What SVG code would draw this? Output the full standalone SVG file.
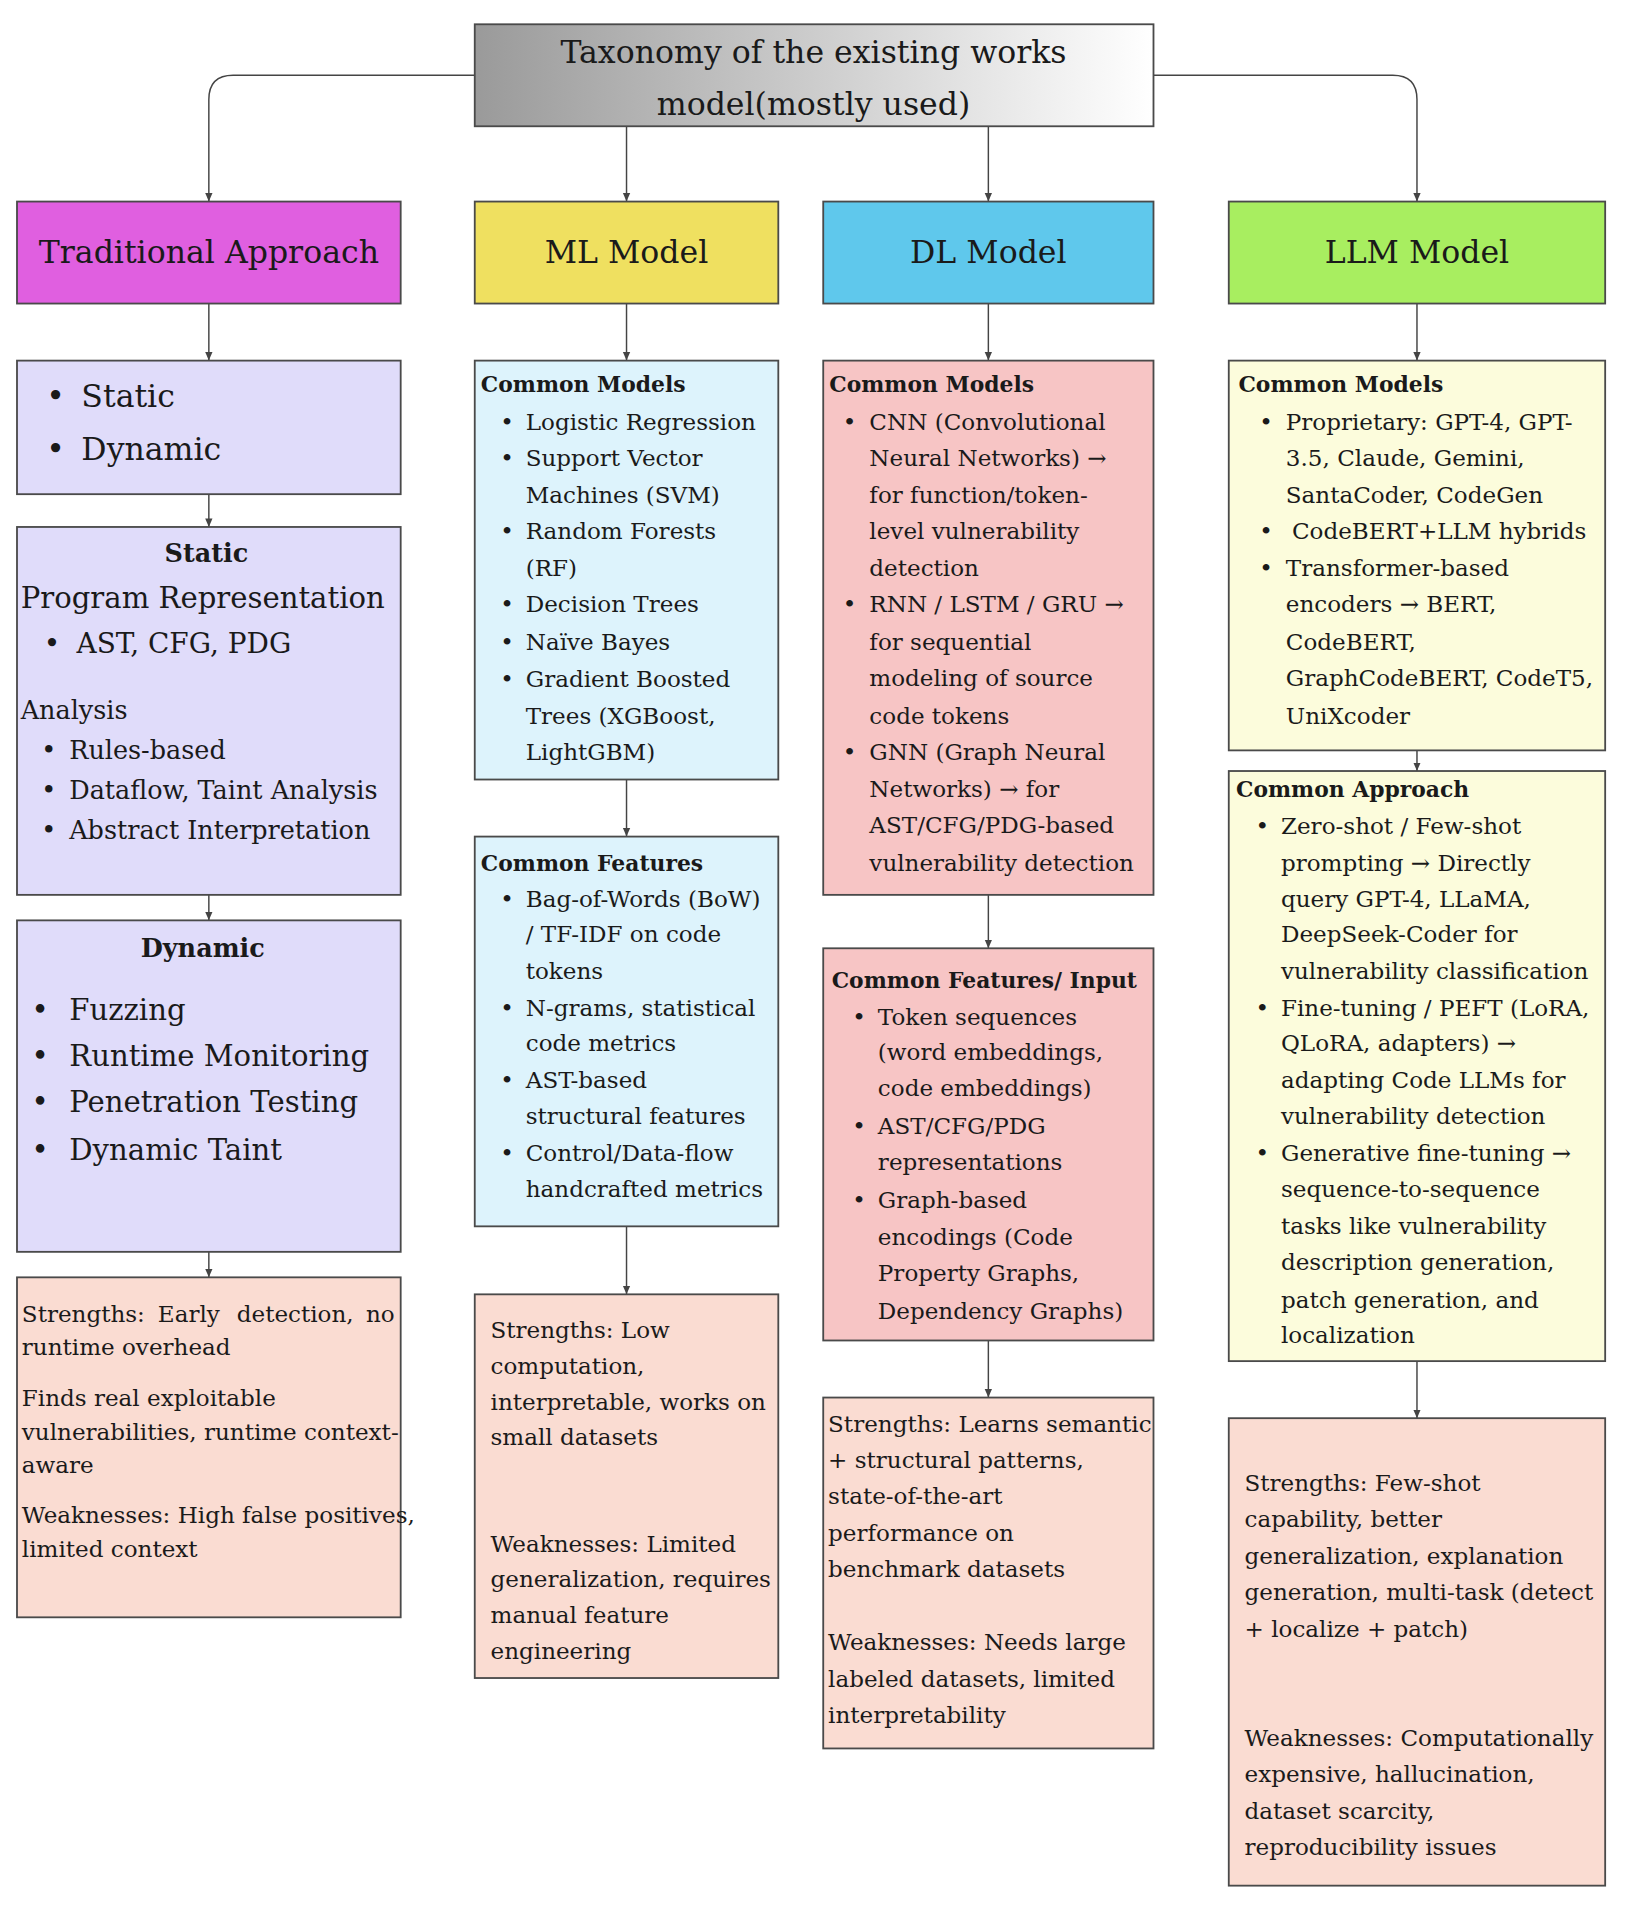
<svg xmlns="http://www.w3.org/2000/svg" width="1627" height="1907" viewBox="0 0 1627 1907">
<style>
text{font-family:"DejaVu Serif","Liberation Serif",serif;fill:#1a1a1a}
.b{stroke:#4a4a4a;stroke-width:1.5}
.t{font-size:19px}
.h{font-size:18px;font-weight:bold}
.c{stroke:#444;stroke-width:1.2;fill:none;marker-end:url(#a)}
.big{font-size:26px;text-anchor:middle}
</style>
<defs>
<marker id="a" markerWidth="8" markerHeight="8" refX="7" refY="4" orient="auto" markerUnits="userSpaceOnUse"><path d="M0,1 L7,4 L0,7 z" fill="#444"/></marker>
<linearGradient id="g" x1="0" x2="1" y1="0" y2="0"><stop offset="0" stop-color="#9a9a9a"/><stop offset="1" stop-color="#ffffff"/></linearGradient>
</defs>
<rect width="1627" height="1907" fill="#fff"/>
<g transform="scale(1.2142)">
<g id="connectors">
<path class="c" d="M391,62 H192 Q172,62 172,82 V166"/>
<path class="c" d="M950,62 H1147 Q1167,62 1167,82 V166"/>
<path class="c" d="M516,104 V166"/><path class="c" d="M814,104 V166"/>
<path class="c" d="M172,250 V297"/><path class="c" d="M172,407 V434"/><path class="c" d="M172,737 V758"/><path class="c" d="M172,1031 V1052"/>
<path class="c" d="M516,250 V297"/><path class="c" d="M516,642 V689"/><path class="c" d="M516,1010 V1066"/>
<path class="c" d="M814,250 V297"/><path class="c" d="M814,737 V781"/><path class="c" d="M814,1104 V1151"/>
<path class="c" d="M1167,250 V297"/><path class="c" d="M1167,618 V635"/><path class="c" d="M1167,1121 V1168"/>
</g>
<g id="root"><rect class="b" x="391" y="20" width="559" height="84" fill="url(#g)"/>
<text class="big" x="670" y="52">Taxonomy of the existing works</text><text class="big" x="670" y="95">model(mostly used)</text></g>
<g id="trad"><rect class="b" x="14" y="166" width="316" height="84" fill="#E05FE0"/><text class="big" x="172" y="217">Traditional Approach</text></g>
<g id="ml"><rect class="b" x="391" y="166" width="250" height="84" fill="#EFE060"/><text class="big" x="516" y="217">ML Model</text></g>
<g id="dl"><rect class="b" x="678" y="166" width="272" height="84" fill="#5FC8EC"/><text class="big" x="814" y="217">DL Model</text></g>
<g id="llm"><rect class="b" x="1012" y="166" width="310" height="84" fill="#A8EE60"/><text class="big" x="1167" y="217">LLM Model</text></g>

<g id="t1"><rect class="b" x="14" y="297" width="316" height="110" fill="#E0DCFA"/>
<g style="font-size:26px"><text x="38" y="335">•</text><text x="67" y="335">Static</text><text x="38" y="379">•</text><text x="67" y="379">Dynamic</text></g></g>
<g id="t2"><rect class="b" x="14" y="434" width="316" height="303" fill="#E0DCFA"/>
<text x="170" y="463" style="font-size:21px;font-weight:bold;text-anchor:middle">Static</text>
<text x="17" y="501" style="font-size:24px">Program Representation</text>
<text x="36" y="538" style="font-size:23px">•</text><text x="63" y="538" style="font-size:23px">AST, CFG, PDG</text>
<g style="font-size:21px"><text x="17" y="592">Analysis</text>
<text x="34" y="625">•</text><text x="57" y="625">Rules-based</text>
<text x="34" y="658">•</text><text x="57" y="658">Dataflow, Taint Analysis</text>
<text x="34" y="691">•</text><text x="57" y="691">Abstract Interpretation</text></g></g>
<g id="t3"><rect class="b" x="14" y="758" width="316" height="273" fill="#E0DCFA"/>
<text x="167" y="788" style="font-size:21px;font-weight:bold;text-anchor:middle">Dynamic</text>
<g style="font-size:24px"><text x="26" y="840">•</text><text x="57" y="840">Fuzzing</text>
<text x="26" y="878">•</text><text x="57" y="878">Runtime Monitoring</text>
<text x="26" y="916">•</text><text x="57" y="916">Penetration Testing</text>
<text x="26" y="955">•</text><text x="57" y="955">Dynamic Taint</text></g></g>
<g id="t4" class="t"><rect class="b" x="14" y="1052" width="316" height="280" fill="#FADCD2"/>
<text x="18" y="1089">Strengths:</text><text x="130" y="1089">Early</text><text x="195" y="1089">detection,</text><text x="325" y="1089" text-anchor="end">no</text>
<text x="18" y="1116">runtime overhead</text>
<text x="18" y="1158">Finds real exploitable</text><text x="18" y="1186">vulnerabilities, runtime context-</text><text x="18" y="1213">aware</text>
<text x="18" y="1254">Weaknesses: High false positives,</text><text x="18" y="1282">limited context</text></g>

<g id="m1" class="t"><rect class="b" x="391" y="297" width="250" height="345" fill="#DDF3FC"/>
<text class="h" x="396" y="323">Common Models</text>
<text x="412" y="354">•</text><text x="433" y="354">Logistic Regression</text>
<text x="412" y="384">•</text><text x="433" y="384">Support Vector</text><text x="433" y="414">Machines (SVM)</text>
<text x="412" y="444">•</text><text x="433" y="444">Random Forests</text><text x="433" y="474">(RF)</text>
<text x="412" y="504">•</text><text x="433" y="504">Decision Trees</text>
<text x="412" y="535">•</text><text x="433" y="535">Naïve Bayes</text>
<text x="412" y="566">•</text><text x="433" y="566">Gradient Boosted</text><text x="433" y="596">Trees (XGBoost,</text><text x="433" y="626">LightGBM)</text></g>
<g id="m2" class="t"><rect class="b" x="391" y="689" width="250" height="321" fill="#DDF3FC"/>
<text class="h" x="396" y="717">Common Features</text>
<text x="412" y="747">•</text><text x="433" y="747">Bag-of-Words (BoW)</text><text x="433" y="776">/ TF-IDF on code</text><text x="433" y="806">tokens</text>
<text x="412" y="837">•</text><text x="433" y="837">N-grams, statistical</text><text x="433" y="866">code metrics</text>
<text x="412" y="896">•</text><text x="433" y="896">AST-based</text><text x="433" y="926">structural features</text>
<text x="412" y="956">•</text><text x="433" y="956">Control/Data-flow</text><text x="433" y="986">handcrafted metrics</text></g>
<g id="m3" class="t"><rect class="b" x="391" y="1066" width="250" height="316" fill="#FADCD2"/>
<text x="404" y="1102">Strengths: Low</text><text x="404" y="1132">computation,</text><text x="404" y="1161">interpretable, works on</text><text x="404" y="1190">small datasets</text>
<text x="404" y="1278">Weaknesses: Limited</text><text x="404" y="1307">generalization, requires</text><text x="404" y="1337">manual feature</text><text x="404" y="1366">engineering</text></g>

<g id="d1" class="t"><rect class="b" x="678" y="297" width="272" height="440" fill="#F7C5C5"/>
<text class="h" x="683" y="323">Common Models</text>
<text x="694" y="354">•</text><text x="716" y="354">CNN (Convolutional</text><text x="716" y="384">Neural Networks) →</text><text x="716" y="414">for function/token-</text><text x="716" y="444">level vulnerability</text><text x="716" y="474">detection</text>
<text x="694" y="504">•</text><text x="716" y="504">RNN / LSTM / GRU →</text><text x="716" y="535">for sequential</text><text x="716" y="565">modeling of source</text><text x="716" y="596">code tokens</text>
<text x="694" y="626">•</text><text x="716" y="626">GNN (Graph Neural</text><text x="716" y="656">Networks) → for</text><text x="716" y="686">AST/CFG/PDG-based</text><text x="716" y="717">vulnerability detection</text></g>
<g id="d2" class="t"><rect class="b" x="678" y="781" width="272" height="323" fill="#F7C5C5"/>
<text class="h" x="685" y="814">Common Features/ Input</text>
<text x="702" y="844">•</text><text x="723" y="844">Token sequences</text><text x="723" y="873">(word embeddings,</text><text x="723" y="903">code embeddings)</text>
<text x="702" y="934">•</text><text x="723" y="934">AST/CFG/PDG</text><text x="723" y="964">representations</text>
<text x="702" y="995">•</text><text x="723" y="995">Graph-based</text><text x="723" y="1025">encodings (Code</text><text x="723" y="1055">Property Graphs,</text><text x="723" y="1086">Dependency Graphs)</text></g>
<g id="d3" class="t"><rect class="b" x="678" y="1151" width="272" height="289" fill="#FADCD2"/>
<text x="682" y="1179">Strengths: Learns semantic</text><text x="682" y="1209">+ structural patterns,</text><text x="682" y="1239">state-of-the-art</text><text x="682" y="1269">performance on</text><text x="682" y="1299">benchmark datasets</text>
<text x="682" y="1359">Weaknesses: Needs large</text><text x="682" y="1389">labeled datasets, limited</text><text x="682" y="1419">interpretability</text></g>

<g id="l1" class="t"><rect class="b" x="1012" y="297" width="310" height="321" fill="#FCFCDC"/>
<text class="h" x="1020" y="323">Common Models</text>
<text x="1037" y="354">•</text><text x="1059" y="354">Proprietary: GPT-4, GPT-</text><text x="1059" y="384">3.5, Claude, Gemini,</text><text x="1059" y="414">SantaCoder, CodeGen</text>
<text x="1037" y="444">•</text><text x="1064" y="444">CodeBERT+LLM hybrids</text>
<text x="1037" y="474">•</text><text x="1059" y="474">Transformer-based</text><text x="1059" y="504">encoders → BERT,</text><text x="1059" y="535">CodeBERT,</text><text x="1059" y="565">GraphCodeBERT, CodeT5,</text><text x="1059" y="596">UniXcoder</text></g>
<g id="l2" class="t"><rect class="b" x="1012" y="635" width="310" height="486" fill="#FCFCDC"/>
<text class="h" x="1018" y="656">Common Approach</text>
<text x="1034" y="687">•</text><text x="1055" y="687">Zero-shot / Few-shot</text><text x="1055" y="717">prompting → Directly</text><text x="1055" y="747">query GPT-4, LLaMA,</text><text x="1055" y="776">DeepSeek-Coder for</text><text x="1055" y="806">vulnerability classification</text>
<text x="1034" y="837">•</text><text x="1055" y="837">Fine-tuning / PEFT (LoRA,</text><text x="1055" y="866">QLoRA, adapters) →</text><text x="1055" y="896">adapting Code LLMs for</text><text x="1055" y="926">vulnerability detection</text>
<text x="1034" y="956">•</text><text x="1055" y="956">Generative fine-tuning →</text><text x="1055" y="986">sequence-to-sequence</text><text x="1055" y="1016">tasks like vulnerability</text><text x="1055" y="1046">description generation,</text><text x="1055" y="1077">patch generation, and</text><text x="1055" y="1106">localization</text></g>
<g id="l3" class="t"><rect class="b" x="1012" y="1168" width="310" height="385" fill="#FADCD2"/>
<text x="1025" y="1228">Strengths: Few-shot</text><text x="1025" y="1258">capability, better</text><text x="1025" y="1288">generalization, explanation</text><text x="1025" y="1318">generation, multi-task (detect</text><text x="1025" y="1348">+ localize + patch)</text>
<text x="1025" y="1438">Weaknesses: Computationally</text><text x="1025" y="1468">expensive, hallucination,</text><text x="1025" y="1498">dataset scarcity,</text><text x="1025" y="1528">reproducibility issues</text></g>
</g>
</svg>
